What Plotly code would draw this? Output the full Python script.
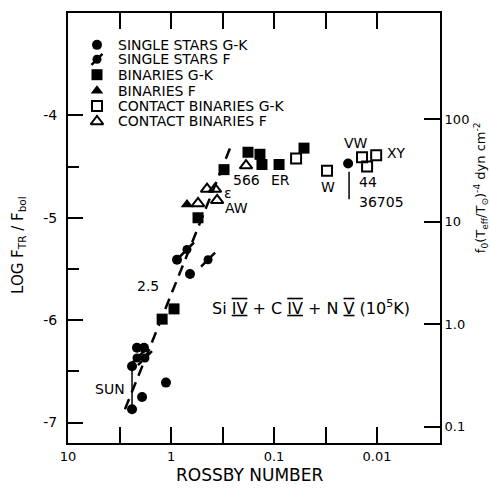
import numpy as np
import plotly.graph_objects as go

# ---- data (Rossby number, log F_TR/F_bol) ----
single_gk_ro = [0.875, 0.654, 2.14, 1.83, 2.39, 1.12, 1.91, 2.39, 0.0191]
single_gk_y = [-5.41, -5.55, -6.27, -6.27, -6.45, -6.61, -6.75, -6.87, -4.47]

single_f_ro = [0.70, 0.437, 2.14, 1.79]
single_f_y = [-5.31, -5.41, -6.37, -6.37]

bin_gk_ro = [0.306, 0.547, 0.935, 1.22, 0.179, 0.137, 0.131, 0.0894, 0.0512]
bin_gk_y = [-4.53, -5.00, -5.89, -5.99, -4.36, -4.38, -4.48, -4.48, -4.32]

bin_f_ro = [0.70]
bin_f_y = [-4.87]

cont_gk_ro = [0.0611, 0.0306, 0.0140, 0.0125, 0.0102]
cont_gk_y = [-4.42, -4.54, -4.41, -4.50, -4.39]

cont_f_ro = [0.547, 0.447, 0.374, 0.357, 0.187]
cont_f_y = [-4.86, -4.72, -4.72, -4.83, -4.49]

fit_ro = [2.8, 0.26]
fit_y = [-6.87, -4.29]

sun_ro = [2.39, 2.39]
sun_y = [-6.45, -6.87]

lead_ro = [0.0187, 0.0187]
lead_y = [-4.55, -4.82]

labels = ["SUN", "2.5", "566", "\u03b5", "AW", "ER", "W", "VW", "XY", "44", "36705"]
label_ro = [3.9, 1.67, 0.187, 0.28, 0.229, 0.0874, 0.0299, 0.016, 0.00654, 0.0122, 0.00914]
label_y = [-6.67, -5.67, -4.63, -4.76, -4.90, -4.63, -4.70, -4.27, -4.37, -4.65, -4.845]

legend_names = ["SINGLE STARS G-K", "SINGLE STARS F", "BINARIES G-K",
                "BINARIES F", "CONTACT BINARIES G-K", "CONTACT BINARIES F"]

xtick_vals = [10, 1, 0.1, 0.01]
xtick_text = ["10", "1", "0.1", "0.01"]
ytick_vals = [-7, -6, -5, -4]
ytick_text = ["-7", "-6", "-5", "-4"]
y2tick_vals = [0.1, 1, 10, 100]
y2tick_text = ["0.1", "1.0", "10", "100"]

FONT = "DejaVu Sans"
BLK = "black"

# plot-area pixel geometry (for placing legend / titles)
L, R, T, B = 68, 440, 11, 443
def px(xp):
    return (xp - L) / (R - L)
def py(yp):
    return (B - yp) / (B - T)

styles = [  # symbol, size, line width
    ("circle", 10, 0),
    ("circle", 9, 0),
    ("square", 11, 0),
    ("triangle-up", 11, 0),
    ("square-open", 10, 2),
    ("triangle-up-open", 11, 2),
]
series = [
    (single_gk_ro, single_gk_y),
    (single_f_ro, single_f_y),
    (bin_gk_ro, bin_gk_y),
    (bin_f_ro, bin_f_y),
    (cont_gk_ro, cont_gk_y),
    (cont_f_ro, cont_f_y),
]

fig = go.Figure()

def mk(symbol, size, lw):
    return dict(symbol=symbol, size=size, color=BLK, line=dict(color=BLK, width=lw))

for name, (xs, ys), (sym, sz, lw) in zip(legend_names, series, styles):
    fig.add_trace(go.Scatter(x=xs, y=ys, mode="markers", name=name, showlegend=False,
                             marker=mk(sym, sz, lw), hoverinfo="skip"))
# slash on single-star F markers
fig.add_trace(go.Scatter(x=single_f_ro, y=single_f_y, mode="markers", showlegend=False,
                         marker=mk("line-ne", 14, 2.5), hoverinfo="skip"))

fig.add_trace(go.Scatter(x=fit_ro, y=fit_y, mode="lines", showlegend=False,
                         line=dict(color=BLK, width=2.5, dash="11px,7px"),
                         hoverinfo="skip"))
fig.add_trace(go.Scatter(x=sun_ro, y=sun_y, mode="lines", showlegend=False,
                         line=dict(color=BLK, width=1.5), hoverinfo="skip"))
fig.add_trace(go.Scatter(x=lead_ro, y=lead_y, mode="lines", showlegend=False,
                         line=dict(color=BLK, width=1.5), hoverinfo="skip"))
# right-axis carrier
fig.add_trace(go.Scatter(x=[], y=[], yaxis="y2", showlegend=False, hoverinfo="skip"))

# ---- hand-drawn key (legend) on a hidden unit overlay ----
key_x = px(97)
key_text_x = px(116)
key_rows = [py(v) for v in (43, 57.5, 73, 89, 104.5, 120)]
for name, (sym, sz, lw), ky in zip(legend_names, styles, key_rows):
    fig.add_trace(go.Scatter(x=[key_x], y=[ky], xaxis="x2", yaxis="y3", mode="markers",
                             showlegend=False, marker=mk(sym, sz, lw), hoverinfo="skip"))
    fig.add_annotation(xref="paper", yref="paper", x=key_text_x, y=ky, xanchor="left",
                       yanchor="middle", text=name, showarrow=False,
                       font=dict(family=FONT, size=14, color=BLK))
fig.add_trace(go.Scatter(x=[key_x], y=[key_rows[1]], xaxis="x2", yaxis="y3", mode="markers",
                         showlegend=False, marker=mk("line-ne", 11, 2.5), hoverinfo="skip"))

for t, xr, yv in zip(labels, label_ro, label_y):
    fig.add_annotation(x=np.log10(xr), y=yv, text=t, showarrow=False,
                       font=dict(family=FONT, size=14, color=BLK))

bar = "<span style='text-decoration:underline overline'>"
fig.add_annotation(x=np.log10(0.0437), y=-5.88,
                   text=f"Si {bar}IV</span> + C {bar}IV</span> + N {bar}V</span> (10<sup>5</sup>K)",
                   showarrow=False, font=dict(family=FONT, size=16, color=BLK))

# axis titles
fig.add_annotation(xref="paper", yref="paper", x=px(19), y=py(244), xanchor="center",
                   yanchor="middle", text="LOG F<sub>TR</sub> / F<sub>bol</sub>",
                   textangle=-90, showarrow=False,
                   font=dict(family=FONT, size=15, color=BLK))
fig.add_annotation(xref="paper", yref="paper", x=px(481), y=py(186), xanchor="center",
                   yanchor="middle",
                   text="f<sub>0</sub>(T<sub>eff</sub>/T<sub>\u2299</sub>)<sup>-4</sup> dyn cm<sup>-2</sup>",
                   textangle=-90, showarrow=False,
                   font=dict(family=FONT, size=13, color=BLK))
fig.add_annotation(xref="paper", yref="paper", x=px(250), y=py(475), xanchor="center",
                   yanchor="middle", text="ROSSBY NUMBER", showarrow=False,
                   font=dict(family=FONT, size=17, color=BLK))

fig.update_layout(
    width=490, height=490,
    margin=dict(l=L, r=490 - R, t=T, b=490 - B),
    paper_bgcolor="white", plot_bgcolor="white",
    font=dict(family=FONT, size=13, color=BLK),
    showlegend=False,
    xaxis=dict(type="log", range=[1, np.log10(0.00245)],
               tickvals=xtick_vals, ticktext=xtick_text,
               ticks="inside", ticklen=16, tickwidth=2, tickcolor=BLK,
               showline=True, linewidth=2, linecolor=BLK, mirror="allticks",
               showgrid=False, zeroline=False,
               minor=dict(tickvals=[3.162, 0.3162, 0.03162], ticks="inside",
                          ticklen=11, tickwidth=2, tickcolor=BLK, showgrid=False),
               tickfont=dict(family=FONT, size=13, color=BLK)),
    xaxis2=dict(overlaying="x", anchor="y", range=[0, 1], visible=False),
    yaxis=dict(range=[-7.2, -3.0], tickvals=ytick_vals, ticktext=ytick_text,
               ticks="inside", ticklen=15, tickwidth=2, tickcolor=BLK,
               showline=True, linewidth=2, linecolor=BLK,
               showgrid=False, zeroline=False, ticklabelstandoff=6,
               minor=dict(tickvals=[-6.5, -5.5, -4.5], ticks="inside",
                          ticklen=11, tickwidth=2, tickcolor=BLK, showgrid=False),
               tickfont=dict(family=FONT, size=14, color=BLK)),
    yaxis2=dict(type="log", overlaying="y", side="right", anchor="x",
                range=[-7.2 + 6.04, -3.0 + 6.04],
                tickvals=y2tick_vals, ticktext=y2tick_text,
                ticks="inside", ticklen=16, tickwidth=2, tickcolor=BLK,
                showline=True, linewidth=2, linecolor=BLK,
                showgrid=False, zeroline=False,
                tickfont=dict(family=FONT, size=13, color=BLK)),
    yaxis3=dict(overlaying="y", anchor="x2", range=[0, 1], visible=False),
)

fig.write_html("out.html", config={"displayModeBar": False},
               post_script="document.body.style.margin='0px';document.body.style.overflow='hidden';")
